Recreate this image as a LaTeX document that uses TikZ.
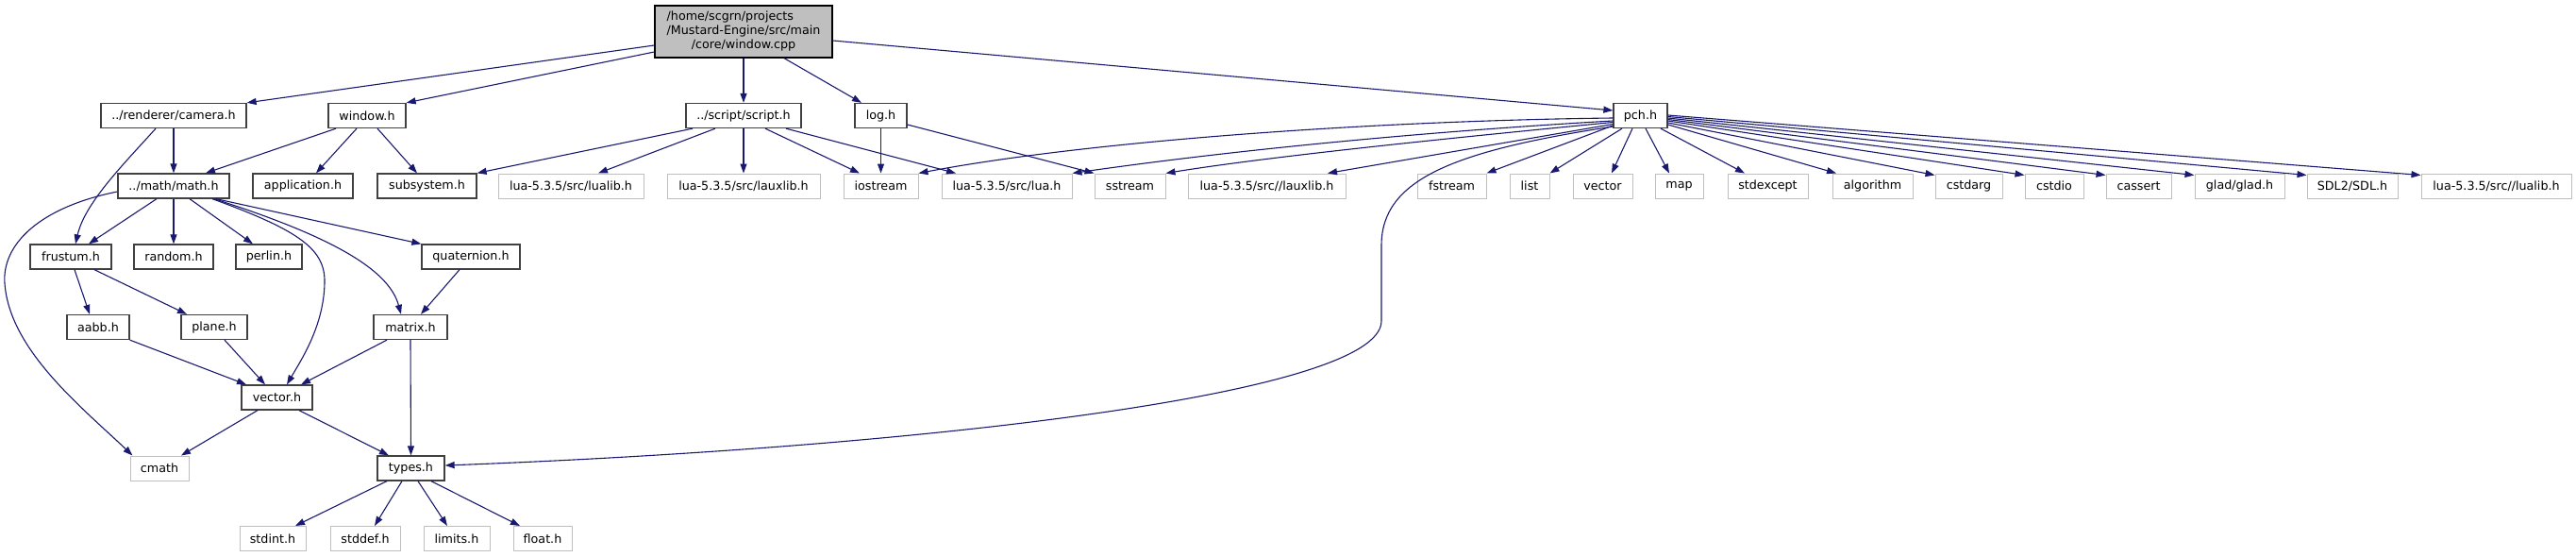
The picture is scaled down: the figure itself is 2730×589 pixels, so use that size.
\documentclass[tikz,border=0pt]{standalone}
\usepackage{fontspec}
\setmainfont{DejaVu Sans}
\usetikzlibrary{arrows.meta}
\definecolor{edgeblue}{HTML}{191970}
\definecolor{boxdark}{HTML}{404040}
\definecolor{extgray}{HTML}{BFBFBF}
\definecolor{rootfill}{HTML}{BFBFBF}
\newcommand\fnt{\fontsize{12.7}{14.7}\selectfont}
\tikzset{
  box/.style={draw=boxdark, line width=1.3pt, fill=white, inner sep=0pt, minimum height=26pt, font=\fnt},
  ext/.style={draw=extgray, line width=1pt, fill=white, inner sep=0pt, minimum height=26pt, font=\fnt},
  rootbox/.style={draw=black, line width=1.3pt, fill=rootfill, inner sep=0pt, minimum height=55pt, minimum width=188pt, font=\fnt},
  edge/.style={draw=edgeblue, line width=1.1pt, -{Triangle[length=10pt,width=7pt]}}
}
\begin{document}
\begin{tikzpicture}[x=1pt,y=-1pt]
\useasboundingbox (0,0) rectangle (2730,589);
% root
\node[rootbox] (root) at (788,33.5) {\fnt\begin{tabular}{@{}l@{}}/home/scgrn/projects\\/Mustard-Engine/src/main\\\multicolumn{1}{@{}c@{}}{/core/window.cpp}\end{tabular}};
% row 2
\node[box, minimum width=154pt] (camera) at (184,122.5) {../renderer/camera.h};
\node[box, minimum width=82pt] (window) at (389,122.5) {window.h};
\node[box, minimum width=122pt] (script) at (788,122.5) {../script/script.h};
\node[box, minimum width=55pt] (log) at (933.5,122.5) {log.h};
\node[box, minimum width=57pt] (pch) at (1738.5,122.5) {pch.h};
% row 3
\node[box, minimum width=118pt] (math) at (184,197) {../math/math.h};
\node[box, minimum width=106pt] (application) at (321,197) {application.h};
\node[box, minimum width=105pt] (subsystem) at (452.5,197) {subsystem.h};
\node[ext, minimum width=154pt] (lualib) at (605,197) {lua-5.3.5/src/lualib.h};
\node[ext, minimum width=162pt] (lauxlib) at (788,197) {lua-5.3.5/src/lauxlib.h};
\node[ext, minimum width=79pt] (iostream) at (933.5,197) {iostream};
\node[ext, minimum width=138pt] (lua) at (1067,197) {lua-5.3.5/src/lua.h};
\node[ext, minimum width=75pt] (sstream) at (1197.5,197) {sstream};
\node[ext, minimum width=167pt] (lauxlibb) at (1342.5,197) {lua-5.3.5/src//lauxlib.h};
\node[ext, minimum width=73pt] (fstream) at (1538.5,197) {fstream};
\node[ext, minimum width=42pt] (list) at (1621,197) {list};
\node[ext, minimum width=63pt] (vecstd) at (1698.5,197) {vector};
\node[ext, minimum width=51pt] (map) at (1779.5,197) {map};
\node[ext, minimum width=85pt] (stdexcept) at (1873.5,197) {stdexcept};
\node[ext, minimum width=85pt] (algorithm) at (1984.5,197) {algorithm};
\node[ext, minimum width=71pt] (cstdarg) at (2086.5,197) {cstdarg};
\node[ext, minimum width=62pt] (cstdio) at (2177,197) {cstdio};
\node[ext, minimum width=69pt] (cassert) at (2266.5,197) {cassert};
\node[ext, minimum width=95pt] (glad) at (2373.5,197) {glad/glad.h};
\node[ext, minimum width=96pt] (sdl) at (2493,197) {SDL2/SDL.h};
\node[ext, minimum width=159pt] (lualibb) at (2645.5,197) {lua-5.3.5/src//lualib.h};
% row 4
\node[box, minimum width=86pt] (frustum) at (75,272) {frustum.h};
\node[box, minimum width=84pt] (random) at (184,272) {random.h};
\node[box, minimum width=70pt] (perlin) at (285,272) {perlin.h};
\node[box, minimum width=104pt] (quaternion) at (499,272) {quaternion.h};
% row 5
\node[box, minimum width=66pt] (aabb) at (104,346.5) {aabb.h};
\node[box, minimum width=70pt] (plane) at (227,346.5) {plane.h};
\node[box, minimum width=78pt] (matrix) at (435,346.5) {matrix.h};
% row 6
\node[box, minimum width=75pt] (vector) at (293.5,421) {vector.h};
% row 7
\node[ext, minimum width=62pt] (cmath) at (169,496) {cmath};
\node[box, minimum width=71pt] (types) at (435.5,496) {types.h};
% row 8
\node[ext, minimum width=70pt] (stdint) at (289,570.5) {stdint.h};
\node[ext, minimum width=74pt] (stddef) at (387,570.5) {stddef.h};
\node[ext, minimum width=70pt] (limits) at (484,570.5) {limits.h};
\node[ext, minimum width=62pt] (float) at (575,570.5) {float.h};

% edges from root
\draw[edge] ([yshift=-14.5pt]root.west) -- (camera.north east);
\draw[edge] ([yshift=-21.5pt]root.west) -- (window.north east);
\draw[edge] (root.south) -- (script.north);
\draw[edge] ([xshift=43pt]root.south) -- ([xshift=-20.5pt]log.north);
\draw[edge] ([yshift=-9.5pt]root.east) -- ([yshift=5.5pt]pch.west);
% camera
\draw[edge] (camera.south) -- (math.north);
\draw[edge] ([xshift=-19pt]camera.south) .. controls (130,175) and (90,215) .. ([xshift=5pt]frustum.north);
% window
\draw[edge] ([xshift=-33pt]window.south) -- ([xshift=34pt]math.north);
\draw[edge] ([xshift=-11pt]window.south) -- ([xshift=14pt]application.north);
\draw[edge] ([xshift=11pt]window.south) -- ([xshift=-10.5pt]subsystem.north);
% script
\draw[edge] ([xshift=-54pt]script.south) -- (subsystem.north east);
\draw[edge] ([xshift=-30pt]script.south) -- ([xshift=29pt]lualib.north);
\draw[edge] (script.south) -- (lauxlib.north);
\draw[edge] ([xshift=23pt]script.south) -- ([xshift=-22.5pt]iostream.north);
\draw[edge] ([xshift=45pt]script.south) -- ([xshift=-54pt]lua.north);
% log
\draw[edge] (log.south) -- (iostream.north);
\draw[edge] ([yshift=-9.5pt]log.east) -- (sstream.north west);
% pch
\draw[edge] ([yshift=-2.5pt]pch.west) .. controls (1450,128) and (1150,150) .. (iostream.north east);
\draw[edge] ([yshift=-5.5pt]pch.west) .. controls (1500,140) and (1300,160) .. (lua.north east);
\draw[edge] ([yshift=-7pt]pch.west) .. controls (1550,145) and (1350,165) .. (sstream.north east);
\draw[edge] ([yshift=-9pt]pch.west) -- ([xshift=64.5pt]lauxlibb.north);
\draw[edge] ([yshift=-10.5pt]pch.west) -- (fstream.north east);
\draw[edge] ([xshift=-19.5pt]pch.south) -- (list.north east);
\draw[edge] ([xshift=-8.5pt]pch.south) -- ([xshift=9.5pt]vecstd.north);
\draw[edge] ([xshift=5.5pt]pch.south) -- ([xshift=-10.5pt]map.north);
\draw[edge] ([xshift=21.5pt]pch.south) -- ([xshift=-24.5pt]stdexcept.north);
\draw[edge] ([yshift=-9.5pt]pch.east) -- ([xshift=-38.5pt]algorithm.north);
\draw[edge] ([yshift=-7.5pt]pch.east) -- ([yshift=-2pt]cstdarg.north west);
\draw[edge] ([yshift=-5.5pt]pch.east) -- ([yshift=-2pt]cstdio.north west);
\draw[edge] ([yshift=-4pt]pch.east) -- ([yshift=-2pt]cassert.north west);
\draw[edge] ([yshift=-2.5pt]pch.east) -- ([yshift=-2pt]glad.north west);
\draw[edge] ([yshift=-1pt]pch.east) -- ([yshift=-2pt]sdl.north west);
\draw[edge] ([yshift=0.5pt]pch.east) -- ([yshift=-2pt]lualibb.north west);
\draw[edge] ([yshift=-11.5pt]pch.west) .. controls (1540,160) and (1464,190) .. (1464,260) -- (1464,340) .. controls (1464,420) and (950,475) .. ([yshift=3pt]types.east);
% math
\draw[edge] ([xshift=-18pt]math.south) -- ([xshift=19pt]frustum.north);
\draw[edge] (math.south) -- (random.north);
\draw[edge] ([xshift=17pt]math.south) -- ([xshift=-17pt]perlin.north);
\draw[edge] ([xshift=45pt]math.south) -- (quaternion.north west);
\draw[edge] ([xshift=43pt]math.south) .. controls (350,250) and (412,285) .. ([xshift=-10pt]matrix.north);
\draw[edge] ([xshift=41pt]math.south) .. controls (320,245) and (345,265) .. (344,300) .. controls (343,345) and (320,380) .. ([xshift=10.5pt]vector.north);
\draw[edge] ([yshift=-6pt]math.west) .. controls (40,220) and (2,260) .. (5,300) .. controls (10,370) and (85,430) .. ([xshift=3pt]cmath.north west);
% frustum etc
\draw[edge] ([xshift=4pt]frustum.south) -- ([xshift=-9pt]aabb.north);
\draw[edge] ([xshift=25pt]frustum.south) -- ([xshift=-29pt]plane.north);
\draw[edge] ([xshift=-12pt]quaternion.south) -- ([xshift=11pt]matrix.north);
\draw[edge] (aabb.south east) -- ([xshift=-32.5pt]vector.north);
\draw[edge] ([xshift=11pt]plane.south) -- ([xshift=-12.5pt]vector.north);
\draw[edge] ([xshift=-25pt]matrix.south) -- ([xshift=25.5pt]vector.north);
\draw[edge] (matrix.south) -- (types.north);
\draw[edge] ([xshift=-20.5pt]vector.south) -- ([xshift=23pt]cmath.north);
\draw[edge] ([xshift=23.5pt]vector.south) -- ([xshift=-23.5pt]types.north);
\draw[edge] ([xshift=-25.5pt]types.south) -- ([xshift=24pt]stdint.north);
\draw[edge] ([xshift=-9.5pt]types.south) -- ([xshift=10pt]stddef.north);
\draw[edge] ([xshift=7.5pt]types.south) -- ([xshift=-10pt]limits.north);
\draw[edge] ([xshift=21.5pt]types.south) -- ([xshift=-24pt]float.north);
\end{tikzpicture}
\end{document}
